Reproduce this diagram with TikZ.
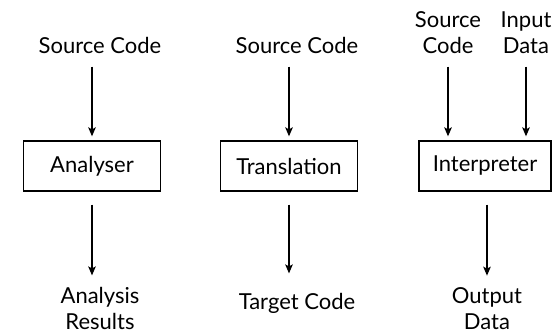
\documentclass[tikz,border=0pt]{standalone}
\usepackage{fontspec}
\setmainfont{Lato}
\usetikzlibrary{positioning, arrows.meta}

\begin{document}
\begin{tikzpicture}[
    x=0.5pt, y=-0.5pt,
    font=\fontsize{11}{13}\selectfont,
    box/.style={draw, rectangle, minimum width=68.5pt, minimum height=25pt, line width=0.65pt},
    txt/.style={align=center, inner sep=1pt},
    arrow/.style={-{Stealth[length=4.5pt, width=3.8pt, inset=1pt]}, line width=0.65pt}
]
    \useasboundingbox (0,0) rectangle (552,335);

    % Analyser
    \node[txt, anchor=base] (src1) at (100,54) {Source Code};
    \node[box] (ana) at (92,166) {Analyser};
    \node[txt, anchor=base] (res1) at (100,330) {Analysis\\Results};
    \draw[arrow, shorten <=5pt, shorten >=2pt] (ana.north |- src1.south) -- (ana.north);
    \draw[arrow, shorten <=6.5pt, shorten >=5pt] (ana.south) -- (ana.south |- res1.north);

    % Translation
    \node[txt, anchor=base] (src2) at (297,54) {Source Code};
    \node[box] (trans) at (289,166) {Translation};
    \node[txt, anchor=base] (res2) at (297,310) {Target Code};
    \draw[arrow, shorten <=5pt, shorten >=2pt] (trans.north |- src2.south) -- (trans.north);
    \draw[arrow, shorten <=6.5pt, shorten >=9pt] (trans.south) -- (trans.south |- res2.north);

    % Interpreter
    \node[txt, anchor=base] (src3) at (448,54) {Source\\Code};
    \node[txt, anchor=base] (inp3) at (526,54) {Input\\Data};
    \node[box, minimum width=66pt] (interp) at (485,166) {Interpreter};
    \node[txt, anchor=base] (res3) at (487,330) {Output\\Data};
    \draw[arrow, shorten <=5pt, shorten >=2pt] (src3.south) -- (src3.south |- interp.north);
    \draw[arrow, shorten <=5pt, shorten >=2pt] (inp3.south) -- (inp3.south |- interp.north);
    \draw[arrow, shorten <=6.5pt, shorten >=5pt] (interp.south -| res3) -- (res3.north);
\end{tikzpicture}
\end{document}
